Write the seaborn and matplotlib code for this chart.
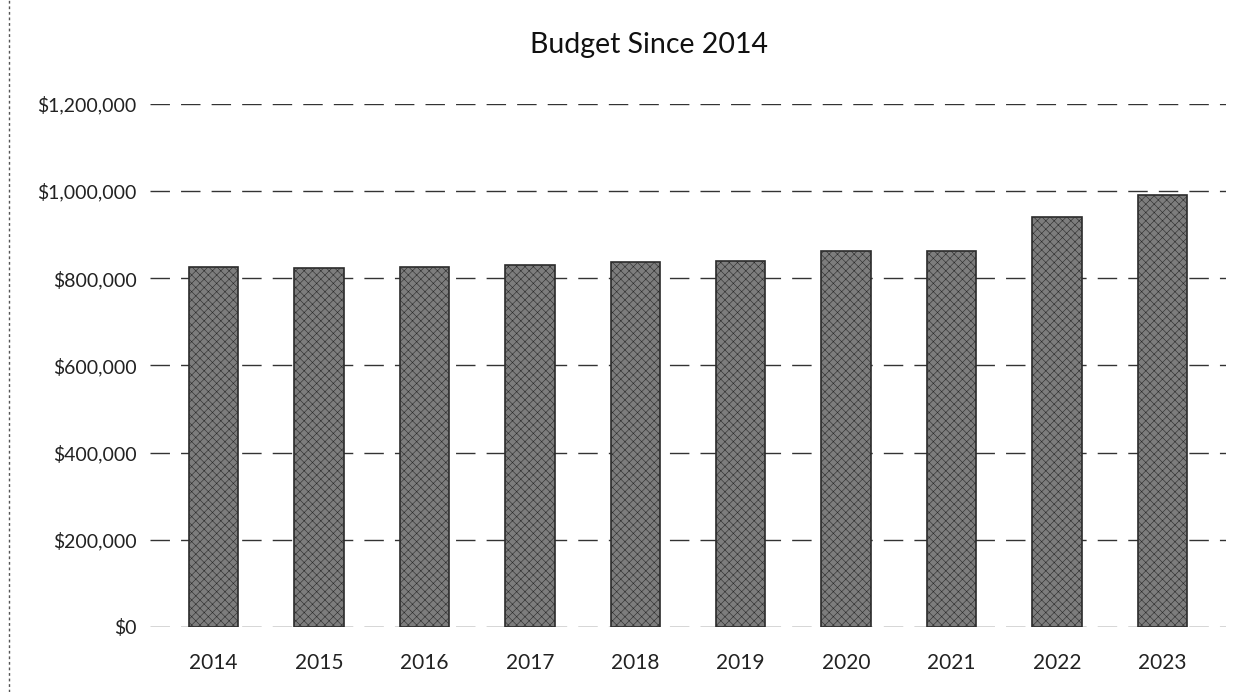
import matplotlib
matplotlib.use('Agg')
import matplotlib.pyplot as plt
import seaborn as sns
import pandas as pd
from matplotlib.lines import Line2D

# budget per year
years = ['2014', '2015', '2016', '2017', '2018', '2019', '2020', '2021', '2022', '2023']
budget = [826000, 824000, 826000, 830000, 838000, 840000, 862000, 862000, 940000, 990000]
y_ticks = [0, 200000, 400000, 600000, 800000, 1000000, 1200000]
y_labels = ['$0', '$200,000', '$400,000', '$600,000', '$800,000', '$1,000,000', '$1,200,000']

df = pd.DataFrame({'Year': years, 'Budget': budget})

sns.set_theme(style='white')
plt.rcParams['font.family'] = ['Lato', 'DejaVu Sans']

fig = plt.figure(figsize=(12.43, 6.92), dpi=100)
ax = fig.add_axes([0.121, 0.094, 0.865, 0.756])

ax.set_axisbelow(True)
ax.yaxis.grid(True, color='#333333', linewidth=1.0, linestyle=(0, (14, 8)))

sns.barplot(data=df, x='Year', y='Budget', color='#7d7d7d', width=0.47,
            edgecolor='#2b2b2b', linewidth=1.2, saturation=1, ax=ax)
for p in ax.patches:
    p.set_hatch('xxxx')
    p.set_hatch_linewidth(0.4)

ax.set_ylim(0, 1200000)
ax.set_xlim(-0.6, 9.6)
ax.set_yticks(y_ticks)
ax.set_yticklabels(y_labels, fontsize=14, color='#222222')
ax.tick_params(axis='x', labelsize=15, colors='#222222', length=0, pad=19)
ax.tick_params(axis='y', length=0, pad=10)
ax.set_xlabel('')
ax.set_ylabel('')
for s in ax.spines.values():
    s.set_visible(False)

fig.text(0.522, 0.935, 'Budget Since 2014', ha='center', va='center', fontsize=20.5, color='#111111')

# scan border on the left edge
fig.add_artist(Line2D([0.007, 0.007], [0.0, 1.0], color='#555555', linewidth=1, linestyle=(0, (2, 2))))

fig.savefig('out.png', dpi=100)
